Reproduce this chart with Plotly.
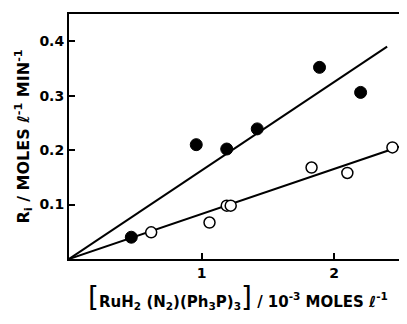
import plotly.graph_objects as go

# Filled circles (upper series)
filled_x = [0.47, 0.96, 1.19, 1.42, 1.89, 2.20]
filled_y = [0.040, 0.210, 0.202, 0.239, 0.352, 0.306]

# Open circles (lower series)
open_x = [0.62, 1.06, 1.19, 1.22, 1.83, 2.10, 2.44]
open_y = [0.049, 0.067, 0.098, 0.098, 0.168, 0.158, 0.205]

# Fitted lines through origin
upper_line_x = [0.0, 2.40]
upper_line_y = [0.0, 0.390]
lower_line_x = [0.0, 2.55]
lower_line_y = [0.0, 0.211]

x_ticks = [1, 2]
x_tick_labels = ["1", "2"]
y_ticks = [0.1, 0.2, 0.3, 0.4]
y_tick_labels = ["0.1", "0.2", "0.3", "0.4"]

FONT = "DejaVu Sans"

fig = go.Figure()
fig.add_trace(go.Scatter(x=upper_line_x, y=upper_line_y, mode="lines",
                         line=dict(color="black", width=2), hoverinfo="skip"))
fig.add_trace(go.Scatter(x=lower_line_x, y=lower_line_y, mode="lines",
                         line=dict(color="black", width=2), hoverinfo="skip"))
fig.add_trace(go.Scatter(x=filled_x, y=filled_y, mode="markers",
                         marker=dict(color="black", size=12, line=dict(color="black", width=1))))
fig.add_trace(go.Scatter(x=open_x, y=open_y, mode="markers",
                         marker=dict(color="white", size=11, line=dict(color="black", width=1.5))))

# page body has an 8px default margin, so the figure is sized to fit the window
fig.update_layout(
    width=399, height=316,
    margin=dict(l=61, r=0, t=6, b=65),
    plot_bgcolor="white", paper_bgcolor="white",
    showlegend=False,
    font=dict(family=FONT, color="black", size=14),
    xaxis=dict(range=[0, 2.55], tickvals=x_ticks, ticktext=x_tick_labels,
               ticks="inside", ticklen=6, tickwidth=1.5, tickcolor="black",
               showline=True, linecolor="black", linewidth=2, mirror=True,
               showgrid=False, zeroline=False, automargin=False,
               tickfont=dict(family=FONT, size=14, weight="bold"),
               title=dict(text="<span style='font-size:28px;font-weight:normal'>[</span>RuH<sub>2</sub> (N<sub>2</sub>)(Ph<sub>3</sub>P)<sub>3</sub><span style='font-size:28px;font-weight:normal'>]</span> / 10<sup>-3</sup> MOLES ℓ<sup>-1</sup>",
                          font=dict(family=FONT, size=15, weight="bold"), standoff=8)),
    yaxis=dict(range=[0, 0.45], tickvals=y_ticks, ticktext=y_tick_labels,
               ticks="inside", ticklen=6, tickwidth=1.5, tickcolor="black",
               showline=True, linecolor="black", linewidth=2, mirror="ticks",
               showgrid=False, zeroline=False, automargin=False,
               tickfont=dict(family=FONT, size=14, weight="bold"),
               title=dict(text="R<sub>i</sub> / MOLES ℓ<sup>-1</sup> MIN<sup>-1</sup>",
                          font=dict(family=FONT, size=16, weight="bold"), standoff=6)),
)

fig.write_html("out.html")
